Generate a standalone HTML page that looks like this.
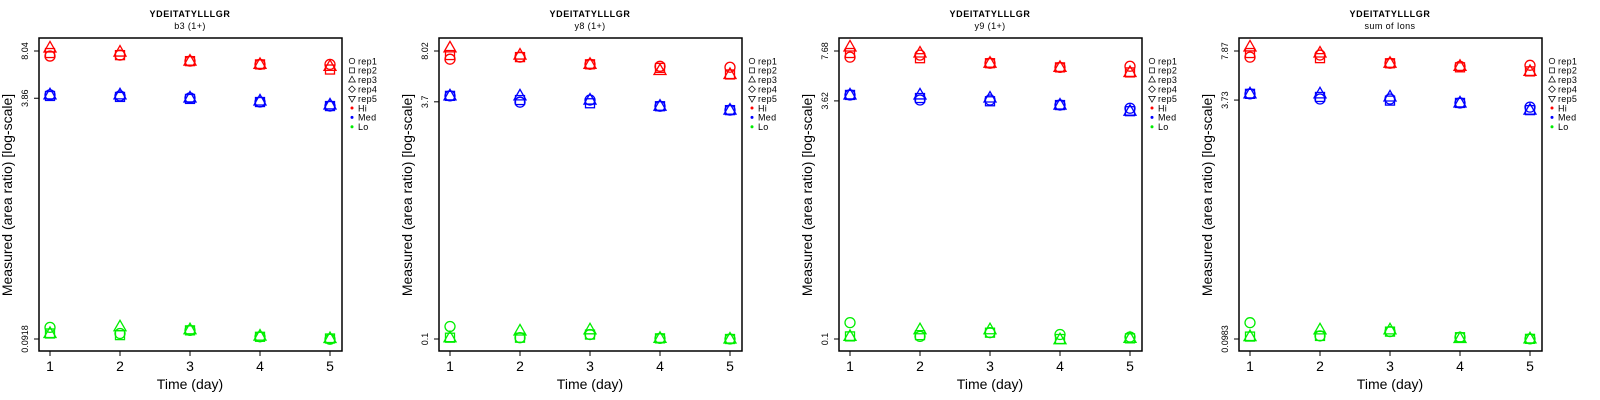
<!DOCTYPE html>
<html><head><meta charset="utf-8"><style>
html,body{margin:0;padding:0;background:#fff;width:1600px;height:400px;overflow:hidden}
svg text{font-family:"Liberation Sans",Arial,sans-serif}
</style></head><body>
<svg id="chart" width="1600" height="400" xmlns="http://www.w3.org/2000/svg"></svg>
<script>
const days = [1,2,3,4,5];
const reps = ["rep1","rep2","rep3","rep4","rep5"];
const subtitles = ["b3 (1+)","y8 (1+)","y9 (1+)","sum of Ions"];
const topTicks = [8.04,8.02,7.68,7.87];
const midTicks = [3.86,3.7,3.62,3.73];
const botTicks = [0.0918,0.1,0.1,0.0983];
const hi1 = [[7.43,7.54,6.87,6.53,6.53],[7.79,7.54,6.87,6.53,6.03],[8.43,7.91,6.87,6.53,6.33]];
const med1 = [[4.07,4.00,3.88,3.64,3.42],[4.00,3.94,3.82,3.64,3.42],[4.07,4.07,3.88,3.70,3.48]];
const lo1 = [[0.1100,0.1000,0.1050,0.0950,0.0915],[0.1000,0.0975,0.1050,0.0950,0.0925],[0.1000,0.1110,0.1060,0.0960,0.0925]];
const hi2 = [[7.08,7.31,6.55,6.35,6.26],[7.54,7.31,6.55,6.20,5.61],[8.41,7.54,6.55,5.96,5.61]];
const med2 = [[4.05,3.68,3.80,3.46,3.26],[4.05,3.80,3.62,3.46,3.26],[4.05,4.05,3.80,3.46,3.26]];
const lo2 = [[0.121,0.1020,0.107,0.1010,0.1000],[0.1020,0.1020,0.107,0.1010,0.1000],[0.1020,0.113,0.115,0.1010,0.1000]];
const hi3 = [[7.00,7.22,6.39,6.00,6.10],[7.45,6.89,6.39,6.00,5.56],[8.16,7.45,6.39,6.00,5.56]];
const med3 = [[3.96,3.67,3.67,3.40,3.24],[3.96,3.78,3.60,3.40,3.10],[3.96,3.96,3.78,3.40,3.10]];
const lo3 = [[0.128,0.1040,0.110,0.107,0.103],[0.1040,0.1060,0.110,0.100,0.101],[0.1040,0.115,0.115,0.099,0.101]];
const hi4 = [[7.17,7.40,6.53,6.23,6.33],[7.63,7.06,6.53,6.14,5.77],[8.37,7.63,6.53,6.23,5.77]];
const med4 = [[4.10,3.79,3.79,3.57,3.35],[4.10,3.91,3.70,3.57,3.20],[4.10,4.10,3.91,3.57,3.20]];
const lo4 = [[0.126,0.1030,0.110,0.1010,0.0985],[0.1020,0.1030,0.110,0.1010,0.0985],[0.1020,0.113,0.113,0.0990,0.0985]];
const panels = [[hi1,med1,lo1],[hi2,med2,lo2],[hi3,med3,lo3],[hi4,med4,lo4]];
const colors = ["#ff0000","#0000ff","#00ee00"];

const NS = "http://www.w3.org/2000/svg";
const svg = document.getElementById("chart");
function mk(tag, attrs, parent){const e=document.createElementNS(NS,tag);for(const k in attrs)e.setAttribute(k,attrs[k]);(parent||svg).appendChild(e);return e;}

function marker(g, shape, cx, cy, col){
  const s=5, st={fill:"none",stroke:col,"stroke-width":1.3};
  let e;
  if(shape===0) e=mk("circle",Object.assign({cx:cx,cy:cy,r:s},st),g);
  else if(shape===1) e=mk("rect",Object.assign({x:cx-4.5,y:cy-4.5,width:9,height:9},st),g);
  else if(shape===2) e=mk("polygon",Object.assign({points:`${cx},${cy-6.5} ${cx-6},${cy+4} ${cx+6},${cy+4}`},st),g);
  else if(shape===3) e=mk("polygon",Object.assign({points:`${cx},${cy-6} ${cx+6},${cy} ${cx},${cy+6} ${cx-6},${cy}`},st),g);
  else e=mk("polygon",Object.assign({points:`${cx},${cy+6.5} ${cx-6},${cy-4} ${cx+6},${cy-4}`},st),g);
  return e;
}

panels.forEach((pd, p) => {
  const ox = p*400;
  const g = mk("g",{});
  
  
  const L=ox+39, R=ox+342, T=38, B=351;
  const xs = d => L + 11 + (d-1)*70;
  const yTop=51, yBot=339;
  const lt=Math.log(topTicks[p]), lb=Math.log(botTicks[p]);
  const ys = v => yTop + (lt-Math.log(v))/(lt-lb)*(yBot-yTop);
  const t1 = mk("text",{x:L+151,y:17,"text-anchor":"middle","font-size":9,"font-weight":"bold","letter-spacing":"0.6"},g);
  t1.textContent="YDEITATYLLLGR";
  
  
  const t2 = mk("text",{x:L+151,y:29,"text-anchor":"middle","font-size":9,"letter-spacing":"0.4"},g);
  t2.textContent=subtitles[p];
  
  
  const box = mk("rect",{x:L,y:T,width:R-L,height:B-T,fill:"none",stroke:"#000","stroke-width":1.5},g);
  
  
  days.forEach(d=>{
    mk("line",{x1:xs(d),x2:xs(d),y1:B,y2:B+5,stroke:"#000"},g);
    const tl = mk("text",{x:xs(d),y:371,"text-anchor":"middle","font-size":14},g);
    tl.textContent=d;
    
    
  });
  [topTicks[p],midTicks[p],botTicks[p]].forEach(v=>{
    const y=ys(v);
    mk("line",{x1:L-5,x2:L,y1:y,y2:y,stroke:"#000"},g);
    const tl = mk("text",{x:0,y:0,"text-anchor":"middle","font-size":9,transform:`translate(${L-11},${y}) rotate(-90)`},g);
    tl.textContent=v;
    
    
  });
  const xt = mk("text",{x:L+151,y:389,"text-anchor":"middle","font-size":14},g);
  xt.textContent="Time (day)";
  
  
  const yt = mk("text",{x:0,y:0,"text-anchor":"middle","font-size":14,transform:`translate(${ox+12},${195}) rotate(-90)`},g);
  yt.textContent="Measured (area ratio) [log-scale]";
  
  
  pd.forEach((grp, gi) => {
    grp.forEach((series, ri) => {
      series.forEach((v, di) => {
        const m = marker(g, ri, xs(days[di]), ys(v), colors[gi]);
        
        
      });
    });
  });
  const labs = reps.concat(["Hi","Med","Lo"]);
  labs.forEach((lab,i)=>{
    const y = 61 + i*9.4;
    let m;
    if(i<5){
      m = mk("g",{transform:`translate(${ox+352},${y}) scale(0.55) translate(${-ox-352},${-y})`},g);
      marker(m, i, ox+352, y, "#000");
    } else {
      m = mk("circle",{cx:ox+352,cy:y,r:1.5,fill:colors[i-5]},g);
    }
    
    
    const tx = mk("text",{x:ox+358,y:y+3.3,"font-size":9,"letter-spacing":"0.3"},g);
    tx.textContent=lab;
    
    
  });
});
</script>
</body></html>
